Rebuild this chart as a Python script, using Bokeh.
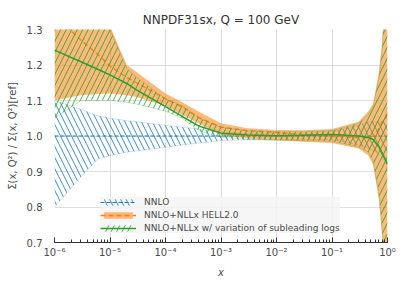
from bokeh.plotting import figure
from bokeh.models import (Legend, LegendItem, FixedTicker, CustomJSTickFormatter,
                          LogTicker, Range1d, PrintfTickFormatter)
from bokeh.embed import file_html
from bokeh.resources import INLINE

# x grid
x = [1e-6, 3e-6, 6e-6, 1e-5, 2e-5, 3e-5, 1e-4, 2e-4, 4e-4, 1e-3, 3e-3, 1e-2, 3e-2, 1e-1,
     0.3, 0.45, 0.55, 0.7, 0.8, 0.9, 1.0]

# NNLO (reference)
nnlo_lo = [0.80, 0.885, 0.935, 0.945, 0.955, 0.958, 0.968, 0.975, 0.980, 0.987, 0.990, 0.990,
           0.990, 0.990, 0.975, 0.965, 0.960, 0.950, 0.940, 0.930, 0.900]
nnlo_hi = [1.10, 1.075, 1.057, 1.050, 1.043, 1.040, 1.030, 1.025, 1.020, 1.011, 1.008, 1.007,
           1.008, 1.012, 1.030, 1.040, 1.040, 1.040, 1.040, 1.050, 1.080]
nnlo_c = [1.0] * len(x)

# NNLO+NLLx HELL2.0
hell_lo = [1.10, 1.115, 1.118, 1.120, 1.115, 1.110, 1.085, 1.060, 1.035, 1.003, 0.993, 0.988,
           0.984, 0.980, 0.965, 0.945, 0.920, 0.820, 0.720, 0.600, 0.500]
hell_hi = [1.40, 1.40, 1.38, 1.31, 1.200, 1.180, 1.120, 1.095, 1.068, 1.036, 1.022, 1.017,
           1.016, 1.020, 1.040, 1.070, 1.090, 1.180, 1.260, 1.400, 1.500]
hell_c = [1.34, 1.27, 1.23, 1.197, 1.165, 1.150, 1.105, 1.082, 1.052, 1.025, 1.015, 1.010,
          1.004, 1.000, 0.995, 0.995, 1.000, 1.020, 1.040, 1.050, 1.060]

# NNLO+NLLx w/ variation of subleading logs
sub_lo = [1.05, 1.100, 1.100, 1.100, 1.095, 1.090, 1.070, 1.050, 1.015, 0.997, 0.990, 0.988,
          0.987, 0.985, 0.970, 0.955, 0.930, 0.840, 0.740, 0.620, 0.500]
sub_hi = [1.40, 1.380, 1.350, 1.300, 1.190, 1.165, 1.105, 1.085, 1.050, 1.025, 1.015, 1.012,
          1.012, 1.015, 1.035, 1.060, 1.085, 1.160, 1.250, 1.380, 1.500]
sub_c = [1.242, 1.209, 1.188, 1.172, 1.148, 1.130, 1.083, 1.055, 1.028, 1.008, 1.003, 1.001,
         1.002, 1.004, 1.000, 0.996, 0.990, 0.970, 0.950, 0.935, 0.920]

labels = ["NNLO", "NNLO+NLLx HELL2.0", "NNLO+NLLx w/ variation of subleading logs"]
decade_ticks = [1e-6, 1e-5, 1e-4, 1e-3, 1e-2, 1e-1, 1.0]
y_ticks = [0.7, 0.8, 0.9, 1.0, 1.1, 1.2, 1.3]

BLUE = "#1f77b4"
ORANGE = "#ff7f0e"
GREEN = "#2ca02c"
TXT = "#4a4a4a"
FONT = "DejaVu Sans"

p = figure(width=400, height=281, x_axis_type="log", output_backend="svg",
           toolbar_location=None, x_range=Range1d(1e-6, 1.0), y_range=Range1d(0.7, 1.3),
           min_border_left=54, min_border_right=13, min_border_top=29, min_border_bottom=39)
p.title.text = "NNPDF31sx, Q = 100 GeV"
p.title.align = "center"
p.title.text_font = FONT
p.title.text_font_size = "12px"
p.title.text_font_style = "normal"
p.title.text_color = "#333333"
p.title.standoff = 5
p.outline_line_color = None
p.background_fill_color = "white"

# grids
p.xgrid.ticker = FixedTicker(ticks=decade_ticks)
p.ygrid.ticker = FixedTicker(ticks=y_ticks)
for g in (p.xgrid, p.ygrid):
    g.grid_line_color = "#dedede"
    g.grid_line_width = 1

# x axis
xa = p.xaxis[0]
xa.ticker = LogTicker(num_minor_ticks=10)
xa.formatter = CustomJSTickFormatter(code="""
const e = Math.round(Math.log10(tick));
const sup = {'-':'\u207b','0':'\u2070','1':'\u00b9','2':'\u00b2','3':'\u00b3','4':'\u2074','5':'\u2075','6':'\u2076','7':'\u2077','8':'\u2078','9':'\u2079'};
return '10' + String(e).split('').map(c => sup[c]).join('');
""")
xa.axis_label = "x"
xa.axis_label_text_font_style = "italic"
xa.axis_label_text_font = FONT
xa.axis_label_text_font_size = "10px"
xa.axis_label_text_color = TXT
xa.axis_label_standoff = 6
xa.major_label_text_font = FONT
xa.major_label_text_font_size = "10px"
xa.major_label_text_color = TXT
xa.major_label_standoff = 4
xa.axis_line_color = "#333333"
xa.axis_line_width = 1
xa.major_tick_line_color = "#333333"
xa.minor_tick_line_color = "#333333"
xa.major_tick_in = 5
xa.major_tick_out = 0
xa.minor_tick_in = 3
xa.minor_tick_out = 0

# y axis
ya = p.yaxis[0]
ya.ticker = FixedTicker(ticks=y_ticks)
ya.formatter = PrintfTickFormatter(format="%.1f")
ya.axis_label = "\u03a3(x, Q\u00b2) / \u03a3(x, Q\u00b2)[ref]"
ya.axis_label_text_font = FONT
ya.axis_label_text_font_size = "10px"
ya.axis_label_text_font_style = "normal"
ya.axis_label_text_color = TXT
ya.axis_label_standoff = 6
ya.major_label_text_font = FONT
ya.major_label_text_font_size = "10px"
ya.major_label_text_color = TXT
ya.major_label_standoff = 6
ya.axis_line_color = None
ya.major_tick_line_color = None
ya.minor_tick_line_color = None

# NNLO band
b_area = p.varea(x=x, y1=nnlo_lo, y2=nnlo_hi, fill_alpha=0.0, fill_color=BLUE,
                 hatch_pattern="\\", hatch_color=BLUE, hatch_alpha=0.85,
                 hatch_scale=11, hatch_weight=1)
p.line(x, nnlo_lo, line_color=BLUE, line_alpha=0.2, line_width=1)
p.line(x, nnlo_hi, line_color=BLUE, line_alpha=0.2, line_width=1)
b_line = p.line(x, nnlo_c, line_color=BLUE, line_width=1, line_dash="4 2")

# HELL band
o_area = p.varea(x=x, y1=hell_lo, y2=hell_hi, fill_color=ORANGE, fill_alpha=0.55)
o_line = p.line(x, hell_c, line_color=ORANGE, line_width=1.3, line_dash="5 3")

# subleading variation band
g_area = p.varea(x=x, y1=sub_lo, y2=sub_hi, fill_alpha=0.0, fill_color=GREEN,
                 hatch_pattern="/", hatch_color=GREEN, hatch_alpha=0.85,
                 hatch_scale=11, hatch_weight=1)
p.line(x, sub_lo, line_color=GREEN, line_alpha=0.25, line_width=1)
p.line(x, sub_hi, line_color=GREEN, line_alpha=0.25, line_width=1)
g_line = p.line(x, sub_c, line_color=GREEN, line_width=1.5)

legend = Legend(items=[
    LegendItem(label=labels[0], renderers=[b_area, b_line]),
    LegendItem(label=labels[1], renderers=[o_area, o_line]),
    LegendItem(label=labels[2], renderers=[g_area, g_line]),
], location=(46, 9))
legend.label_text_font = FONT
legend.label_text_font_size = "9px"
legend.label_text_color = TXT
legend.label_height = 10
legend.glyph_height = 8
legend.glyph_width = 36
legend.spacing = 3
legend.padding = 4
legend.margin = 0
legend.label_standoff = 8
legend.background_fill_color = "#f4f4f4"
legend.background_fill_alpha = 0.85
legend.border_line_color = None
p.add_layout(legend, "center")

open("out.html", "w").write(file_html(p, INLINE))
